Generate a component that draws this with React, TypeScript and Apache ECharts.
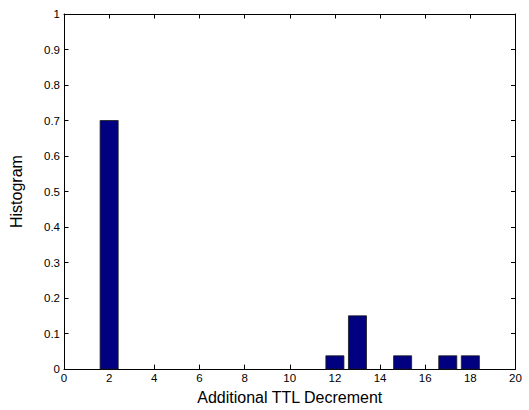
import React, { useEffect, useRef } from "react";
import * as echarts from "echarts";

const binCenters = [2, 12, 13, 15, 17, 18];
const histValues = [0.7, 0.0375, 0.15, 0.0375, 0.0375, 0.0375];
const xTitle = "Additional TTL Decrement";
const yTitle = "Histogram";

export default function App() {
  const ref = useRef<HTMLDivElement>(null);
  useEffect(() => {
    if (!ref.current) return;
    const chart = echarts.init(ref.current, null, { renderer: "svg" });
    const font = "'Liberation Sans', Arial, Helvetica, sans-serif";
    const axisCommon = {
      axisLine: { show: true, onZero: false, lineStyle: { color: "#000", width: 1 } },
      axisTick: { show: true, inside: true, length: 4.5, lineStyle: { color: "#000", width: 1 } },
      splitLine: { show: false },
    };
    chart.setOption({
      animation: false,
      backgroundColor: "#fff",
      textStyle: { fontFamily: font },
      grid: { left: 60.5, right: 13.5, top: 14, bottom: 33.5, containLabel: false },
      xAxis: [
        {
          type: "value", min: 0, max: 20, interval: 2, position: "bottom",
          ...axisCommon,
          axisLabel: { color: "#000", fontSize: 11.5, margin: 3, fontFamily: font },
          name: xTitle, nameLocation: "middle", nameGap: 17,
          nameTextStyle: { color: "#000", fontSize: 16, fontFamily: font },
        },
        {
          type: "value", min: 0, max: 20, interval: 2, position: "top",
          ...axisCommon,
          axisLabel: { show: false },
        },
      ],
      yAxis: [
        {
          type: "value", min: 0, max: 1, interval: 0.1, position: "left",
          ...axisCommon,
          axisLabel: {
            color: "#000", fontSize: 11.5, margin: 4, fontFamily: font,
            formatter: (v: number) => String(Math.round(v * 10) / 10),
          },
          name: yTitle, nameLocation: "middle", nameGap: 40,
          nameTextStyle: { color: "#000", fontSize: 16, fontFamily: font },
        },
        {
          type: "value", min: 0, max: 1, interval: 0.1, position: "right",
          ...axisCommon,
          axisLabel: { show: false },
        },
      ],
      series: [
        {
          type: "custom",
          xAxisIndex: 0,
          yAxisIndex: 0,
          data: binCenters.map((c, i) => [c, histValues[i]]),
          renderItem: (params: any, api: any) => {
            const x = api.value(0);
            const y = api.value(1);
            const p0 = api.coord([x - 0.4, y]);
            const p1 = api.coord([x + 0.4, 0]);
            return {
              type: "rect",
              shape: { x: p0[0], y: p0[1], width: p1[0] - p0[0], height: p1[1] - p0[1] },
              style: { fill: "#000080", stroke: "#1a1a1a", lineWidth: 0.8 },
            };
          },
        },
      ],
    });
    return () => chart.dispose();
  }, []);
  return (
    <div
      ref={ref}
      style={{ position: "fixed", left: 0, top: 0, width: 529, height: 410 }}
    />
  );
}
